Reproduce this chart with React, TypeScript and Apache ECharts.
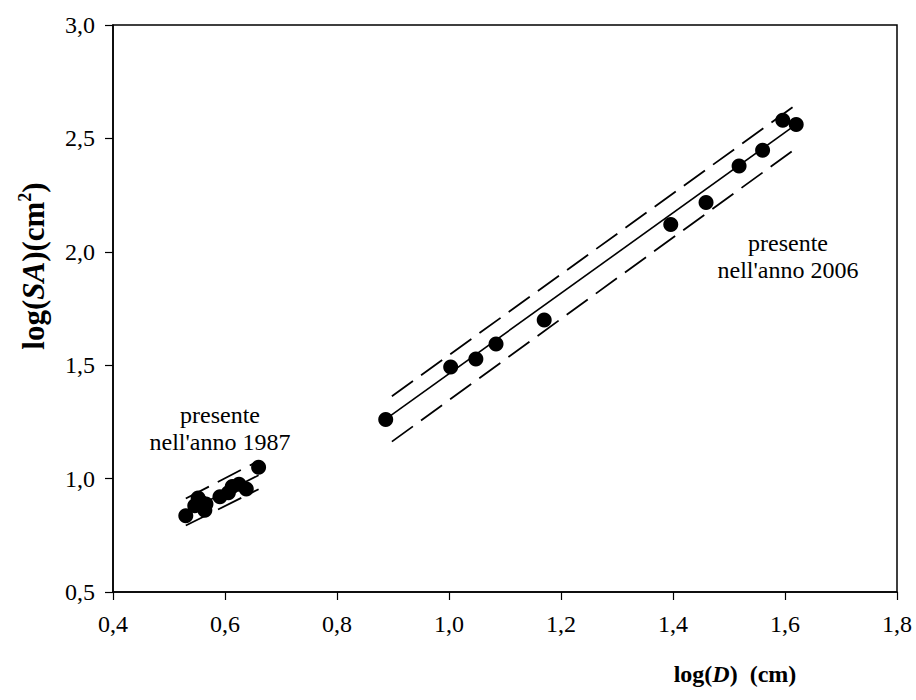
import React, { useEffect, useRef } from "react";
import * as echarts from "echarts";

// 1987 cluster (log D, log SA)
const lowX = [0.530, 0.546, 0.552, 0.558, 0.564, 0.566, 0.591, 0.606, 0.613, 0.625, 0.638, 0.660];
const lowY = [0.836, 0.880, 0.915, 0.895, 0.860, 0.888, 0.920, 0.938, 0.965, 0.975, 0.954, 1.050];
// 2006 group
const highX = [0.887, 1.003, 1.048, 1.084, 1.170, 1.396, 1.459, 1.518, 1.560, 1.596, 1.620];
const highY = [1.261, 1.492, 1.527, 1.593, 1.699, 2.120, 2.217, 2.378, 2.448, 2.580, 2.561];

// regression lines and bands (endpoints)
const lowFitX = [0.530, 0.660];
const lowFitY = [0.852, 1.015];
const lowUpX = [0.530, 0.656];
const lowUpY = [0.912, 1.073];
const lowLoX = [0.530, 0.660];
const lowLoY = [0.793, 0.953];

const highFitX = [0.887, 1.620];
const highFitY = [1.262, 2.562];
const highUpX = [0.898, 1.619];
const highUpY = [1.363, 2.647];
const highLoX = [0.898, 1.619];
const highLoY = [1.163, 2.455];

const xTicks = { min: 0.4, max: 1.8, interval: 0.2 };
const yTicks = { min: 0.5, max: 3.0, interval: 0.5 };

const label1987 = "presente\nnell'anno 1987";
const label2006 = "presente\nnell'anno 2006";

const FONT = "'Liberation Serif', 'Times New Roman', serif";

function pairs(xs: number[], ys: number[]) {
  return xs.map((x, i) => [x, ys[i]]);
}

export default function App() {
  const ref = useRef<HTMLDivElement>(null);
  useEffect(() => {
    if (!ref.current) return;
    const chart = echarts.init(ref.current, undefined, { renderer: "svg" });
    const fmt = (v: number) => v.toFixed(1).replace(".", ",");
    const lineSeries = (xs: number[], ys: number[], dashed: boolean) => ({
      type: "line",
      data: pairs(xs, ys),
      symbol: "none",
      silent: true,
      z: 1,
      lineStyle: {
        color: "#000",
        width: dashed ? 1.8 : 1.6,
        type: dashed ? [26, 10] : "solid",
      },
    });
    chart.setOption({
      animation: false,
      backgroundColor: "#fff",
      grid: {
        left: 113,
        right: 19,
        top: 25,
        bottom: 108,
        show: true,
        borderColor: "#000",
        borderWidth: 1.5,
        containLabel: false,
      },
      xAxis: {
        type: "value",
        min: xTicks.min,
        max: xTicks.max,
        interval: xTicks.interval,
        splitLine: { show: false },
        axisLine: { show: true, onZero: false, lineStyle: { color: "#000", width: 1.5 } },
        axisTick: { show: true, inside: false, length: 8, lineStyle: { color: "#000", width: 1.2 } },
        axisLabel: {
          formatter: fmt,
          color: "#000",
          fontFamily: FONT,
          fontSize: 24,
          margin: 20,
        },
      },
      yAxis: {
        type: "value",
        min: yTicks.min,
        max: yTicks.max,
        interval: yTicks.interval,
        splitLine: { show: false },
        axisLine: { show: true, onZero: false, lineStyle: { color: "#000", width: 1.5 } },
        axisTick: { show: true, inside: false, length: 8, lineStyle: { color: "#000", width: 1.2 } },
        axisLabel: {
          formatter: fmt,
          color: "#000",
          fontFamily: FONT,
          fontSize: 24,
          margin: 18,
        },
      },
      series: [
        lineSeries(lowFitX, lowFitY, false),
        lineSeries(lowUpX, lowUpY, true),
        lineSeries(lowLoX, lowLoY, true),
        lineSeries(highFitX, highFitY, false),
        lineSeries(highUpX, highUpY, true),
        lineSeries(highLoX, highLoY, true),
        {
          type: "scatter",
          data: pairs(lowX, lowY),
          symbol: "circle",
          symbolSize: 15,
          itemStyle: { color: "#000", opacity: 1 },
          z: 3,
        },
        {
          type: "scatter",
          data: pairs(highX, highY),
          symbol: "circle",
          symbolSize: 15,
          itemStyle: { color: "#000", opacity: 1 },
          z: 3,
        },
      ],
      graphic: [
        {
          type: "text",
          x: 220,
          y: 401,
          style: {
            text: label1987,
            fill: "#000",
            font: `24px ${FONT}`,
            lineHeight: 27,
            align: "center",
            verticalAlign: "top",
          },
        },
        {
          type: "text",
          x: 788,
          y: 229,
          style: {
            text: label2006,
            fill: "#000",
            font: `24px ${FONT}`,
            lineHeight: 27,
            align: "center",
            verticalAlign: "top",
          },
        },
        {
          type: "text",
          x: 33,
          y: 266,
          rotation: Math.PI / 2,
          style: {
            text: "{b|log(}{bi|SA}{b|)(cm}{sup|2}{b|)}",
            align: "center",
            verticalAlign: "middle",
            fill: "#000",
            rich: {
              b: { fontFamily: FONT, fontWeight: "bold", fontSize: 31, lineHeight: 34, fill: "#000" },
              bi: { fontFamily: FONT, fontWeight: "bold", fontStyle: "italic", fontSize: 31, lineHeight: 34, fill: "#000" },
              sup: { fontFamily: FONT, fontWeight: "bold", fontSize: 18, lineHeight: 34, verticalAlign: "top", fill: "#000" },
            },
          },
        },
        {
          type: "text",
          x: 735,
          y: 674,
          style: {
            text: "{b|log(}{bi|D}{b|)  (cm)}",
            align: "center",
            verticalAlign: "middle",
            fill: "#000",
            rich: {
              b: { fontFamily: FONT, fontWeight: "bold", fontSize: 24, fill: "#000" },
              bi: { fontFamily: FONT, fontWeight: "bold", fontStyle: "italic", fontSize: 24, fill: "#000" },
            },
          },
        },
      ],
    });
    return () => chart.dispose();
  }, []);
  return (
    <div
      ref={ref}
      style={{ position: "fixed", left: 0, top: 0, width: 916, height: 700, background: "#fff" }}
    />
  );
}
